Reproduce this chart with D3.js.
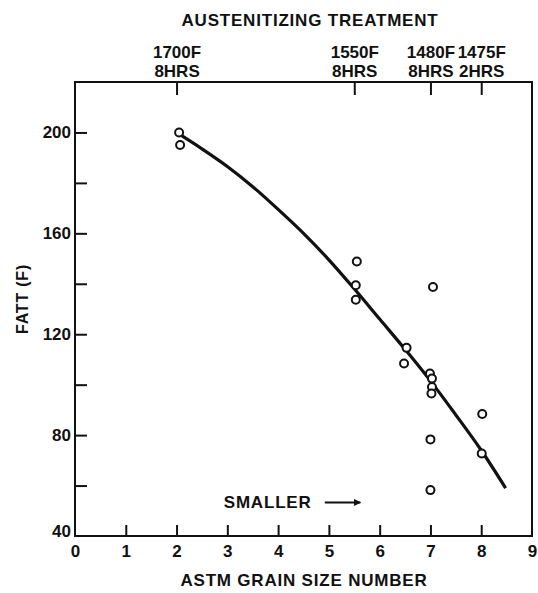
<!DOCTYPE html>
<html>

<head>
    <meta charset="utf-8">
    <style>
        body {
            margin: 0;
            background: #fff;
        }

        svg {
            font-family: 'Liberation Sans', Arial, sans-serif;
            font-weight: bold;
            fill: #111;
        }

        .tick line,
        .frame {
            stroke: #111;
            stroke-width: 2;
        }

        .tick text {
            font-size: 17px;
            fill: #111;
        }

        .title {
            font-size: 17px;
            letter-spacing: 0.8px;
        }

        .top-label {
            font-size: 15px;
        }
    </style>
</head>

<body>
    <svg width="538" height="593"></svg>

    <script src="https://d3js.org/d3.v7.min.js"></script>
    <script>
        let svg = d3.select("svg");

        // plot box
        let margin = { top: 82, right: 6, bottom: 57, left: 75 };
        let width = 538;
        let height = 593;

        // measured points: ASTM grain size number vs FATT (F)
        let grainSize = [2.05, 2.07, 5.55, 5.53, 5.53, 7.05, 6.53, 6.48, 6.99, 7.03, 7.03, 7.02, 8.02, 7.0, 8.01, 7.0];
        let fatt = [200, 195, 148.8, 139.4, 133.7, 138.7, 114.6, 108.4, 104.4, 102.4, 99.1, 96.5, 88.4, 78.3, 72.7, 58.2];

        // hand-drawn trend curve
        let fitX = [2, 2.5, 3, 3.5, 4, 4.5, 5, 5.5, 6, 6.5, 7, 7.5, 8, 8.48];
        let fitY = [200, 193.5, 186.5, 178.5, 169.5, 160, 149.5, 138, 126, 114, 101.5, 88, 74, 59];

        // top axis: austenitizing treatment
        let treatX = [2, 5.5, 7, 8];
        let treatTemp = ["1700F", "1550F", "1480F", "1475F"];
        let treatTime = ["8HRS", "8HRS", "8HRS", "2HRS"];

        let xTicks = [0, 1, 2, 3, 4, 5, 6, 7, 8, 9];
        let yTicks = [40, 60, 80, 100, 120, 140, 160, 180, 200];

        let x = d3.scaleLinear()
            .domain([0, 9])
            .range([margin.left, width - margin.right]);

        let y = d3.scaleLinear()
            .domain([40, 220])
            .range([height - margin.bottom, margin.top]);

        // bottom axis, ticks pointing in
        svg.append("g")
            .attr("class", "x axis")
            .attr("transform", `translate(0,${y(40)})`)
            .call(d3.axisBottom(x).tickValues(xTicks).tickSize(-11).tickPadding(9).tickFormat(d3.format("d")))
            .call(g => g.selectAll(".domain").remove());

        // left axis
        svg.append("g")
            .attr("class", "y axis")
            .attr("transform", `translate(${x(0)},0)`)
            .call(d3.axisLeft(y).tickValues(yTicks).tickSize(-12).tickPadding(4)
                .tickFormat(d => d % 40 === 0 ? d : ""))
            .call(g => g.selectAll(".domain").remove())
            .call(g => g.selectAll(".tick")
                .filter(d => d === 40)
                .select("text")
                .attr("dy", "0.05em"));

        // the edge ticks sit on the frame
        svg.selectAll(".x .tick").filter(d => d === 0 || d === 9).select("line").remove();
        svg.selectAll(".y .tick").filter(d => d === 40).select("line").remove();

        // top axis
        let topAxis = svg.append("g")
            .attr("class", "top axis")
            .attr("transform", `translate(0,${y(220)})`)
            .call(d3.axisTop(x).tickValues(treatX).tickSize(-13).tickFormat(""))
            .call(g => g.selectAll(".domain").remove());

        // two lines per tick, as separate texts
        topAxis.selectAll(".tick").each(function(d, i) {
            let tick = d3.select(this);
            tick.append("text")
                .attr("class", "top-label")
                .attr("text-anchor", "middle")
                .attr("y", -24)
                .text(treatTemp[i]);
            tick.append("text")
                .attr("class", "top-label")
                .attr("text-anchor", "middle")
                .attr("y", -5)
                .text(treatTime[i]);
        });

        // frame
        svg.append("rect")
            .attr("class", "frame")
            .attr("x", x(0))
            .attr("y", y(220))
            .attr("width", x(9) - x(0))
            .attr("height", y(40) - y(220))
            .attr("fill", "none");

        // trend curve
        let line = d3.line()
            .x(d => x(d[0]))
            .y(d => y(d[1]))
            .curve(d3.curveCatmullRom);

        svg.append("path")
            .datum(d3.zip(fitX, fitY))
            .attr("d", line)
            .attr("fill", "none")
            .attr("stroke", "#111")
            .attr("stroke-width", 3.2);

        // points
        svg.append("g")
            .selectAll("circle")
            .data(d3.zip(grainSize, fatt))
            .join("circle")
            .attr("cx", d => x(d[0]))
            .attr("cy", d => y(d[1]))
            .attr("r", 4)
            .attr("fill", "#fff")
            .attr("stroke", "#111")
            .attr("stroke-width", 2);

        // titles
        svg.append("text")
            .attr("class", "title")
            .attr("x", 310)
            .attr("y", 26)
            .attr("text-anchor", "middle")
            .text("AUSTENITIZING TREATMENT");

        svg.append("text")
            .attr("class", "title")
            .attr("x", 304)
            .attr("y", 586)
            .attr("text-anchor", "middle")
            .text("ASTM GRAIN SIZE NUMBER");

        svg.append("text")
            .attr("class", "title")
            .attr("transform", "translate(28,299) rotate(-90)")
            .attr("text-anchor", "middle")
            .style("font-size", "16px")
            .text("FATT (F)");

        // "smaller" arrow annotation
        svg.append("defs").append("marker")
            .attr("id", "head")
            .attr("viewBox", "0 0 10 10")
            .attr("refX", 9)
            .attr("refY", 5)
            .attr("markerWidth", 5)
            .attr("markerHeight", 3.5)
            .attr("orient", "auto")
            .append("path")
            .attr("d", "M0,0L10,5L0,10z")
            .attr("fill", "#111");

        svg.append("text")
            .attr("class", "title")
            .attr("x", x(2.93))
            .attr("y", y(51))
            .text("SMALLER");

        svg.append("line")
            .attr("x1", x(4.92))
            .attr("x2", x(5.62))
            .attr("y1", y(53.3))
            .attr("y2", y(53.3))
            .attr("stroke", "#111")
            .attr("stroke-width", 2)
            .attr("marker-end", "url(#head)");
    </script>
</body>

</html>
